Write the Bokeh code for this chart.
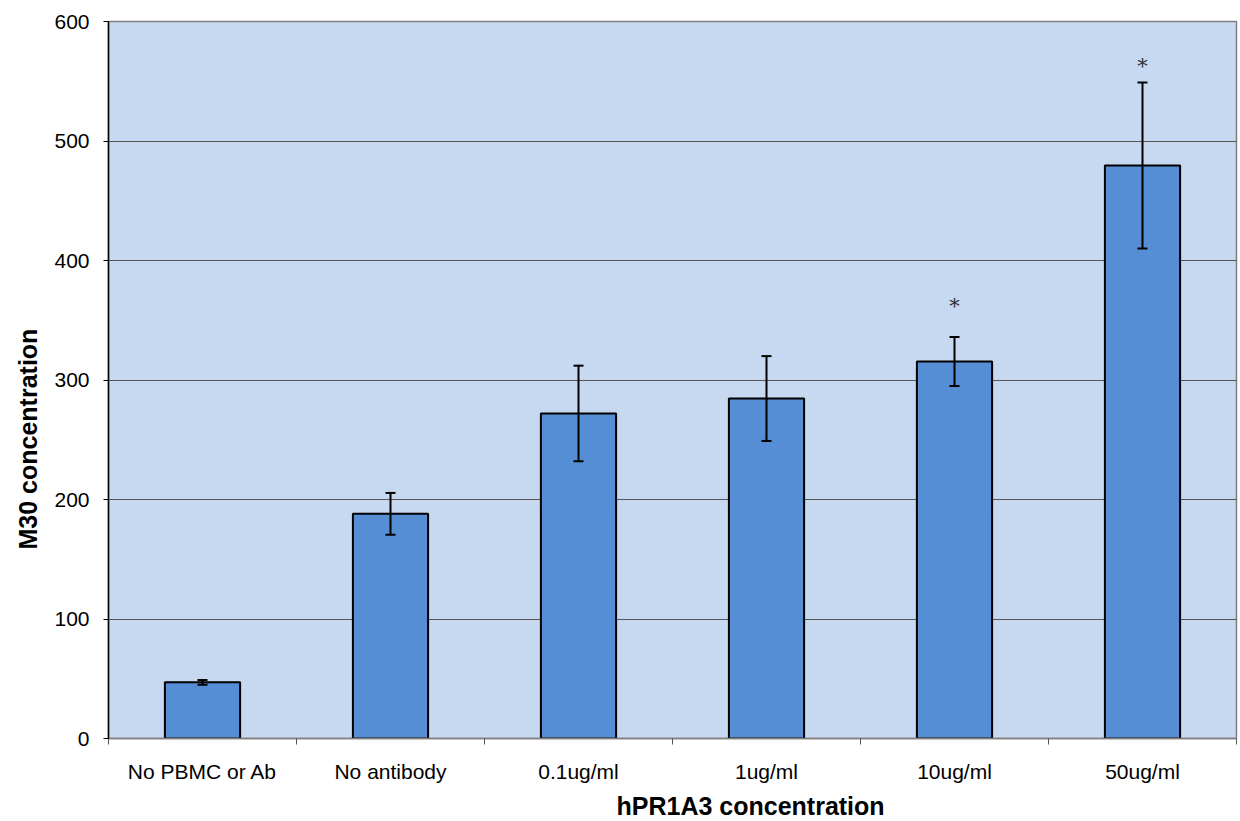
from bokeh.plotting import figure
from bokeh.models import ColumnDataSource, FixedTicker, Whisker, TeeHead, Title, Range1d
from bokeh.core.properties import value
from bokeh.embed import file_html
from bokeh.resources import INLINE

categories = ["No PBMC or Ab", "No antibody", "0.1ug/ml", "1ug/ml", "10ug/ml", "50ug/ml"]
m30 = [47, 188, 272, 284.5, 315.5, 479.5]
err = [2, 17.5, 40, 35.5, 20.5, 69.5]
sig_label = ["", "", "", "", "*", "*"]
sig_y = [None, None, None, None, 362, 563]
y_ticks = [0, 100, 200, 300, 400, 500, 600]

xs = [i + 0.5 for i in range(len(categories))]
src = ColumnDataSource(dict(
    x=xs, top=m30,
    lower=[m - e for m, e in zip(m30, err)],
    upper=[m + e for m, e in zip(m30, err)],
))

FONT = "Liberation Sans"

p = figure(frame_width=1128, frame_height=717, output_backend="svg", toolbar_location=None,
           x_range=Range1d(0, len(categories)), y_range=Range1d(0, 600),
           min_border_left=108, min_border_top=21, min_border_bottom=80, min_border_right=2)
p.border_fill_color = "white"
p.background_fill_color = "#C6D9F1"
p.outline_line_color = "#7f7f7f"
p.outline_line_width = 1.5

p.vbar(x="x", top="top", width=0.4, source=src, fill_color="#558ED5",
       line_color="black", line_width=2)

wh = Whisker(source=src, base="x", lower="lower", upper="upper", line_color="black", line_width=2,
             level="overlay",
             upper_head=TeeHead(size=10, line_color="black", line_width=2),
             lower_head=TeeHead(size=10, line_color="black", line_width=2))
p.add_layout(wh)

sx = [x for x, s in zip(xs, sig_label) if s]
sy = [y for y, s in zip(sig_y, sig_label) if s]
st = [s for s in sig_label if s]
p.text(x=sx, y=sy, text=st, text_font=value("DejaVu Serif"), text_font_size="21px",
       text_color="#333333", text_align="center", text_baseline="middle")

# y axis
p.yaxis.ticker = FixedTicker(ticks=y_ticks)
p.yaxis.axis_line_color = "black"
p.yaxis.axis_line_width = 1.5
p.yaxis.major_tick_line_color = "black"
p.yaxis.major_tick_out = 5
p.yaxis.major_tick_in = 0
p.yaxis.minor_tick_line_color = None
p.yaxis.major_label_text_font = FONT
p.yaxis.major_label_text_font_size = "21px"
p.yaxis.major_label_text_color = "black"
p.yaxis.major_label_standoff = 14

# x axis
p.xaxis.ticker = FixedTicker(ticks=xs, minor_ticks=list(range(len(categories) + 1)))
p.xaxis.major_label_overrides = {x: c for x, c in zip(xs, categories)}
p.xaxis.axis_line_color = "#7f7f7f"
p.xaxis.axis_line_width = 1.5
p.xaxis.major_tick_line_color = None
p.xaxis.major_tick_out = 6
p.xaxis.minor_tick_line_color = "#555555"
p.xaxis.minor_tick_out = 6
p.xaxis.minor_tick_in = 0
p.xaxis.major_label_text_font = FONT
p.xaxis.major_label_text_font_size = "21px"
p.xaxis.major_label_text_color = "black"
p.xaxis.major_label_standoff = 15

p.xgrid.grid_line_color = None
p.ygrid.ticker = FixedTicker(ticks=y_ticks)
p.ygrid.grid_line_color = "#555555"
p.ygrid.grid_line_width = 1

p.add_layout(Title(text="hPR1A3 concentration", text_font=FONT, text_font_size="25px",
                   text_font_style="bold", align="left", offset=508, standoff=8,
                   text_color="black"), "below")
p.add_layout(Title(text="M30 concentration", text_font=FONT, text_font_size="25px",
                   text_font_style="bold", align="left", offset=189, standoff=20,
                   text_color="black"), "left")

open("out.html", "w").write(file_html(p, INLINE))
